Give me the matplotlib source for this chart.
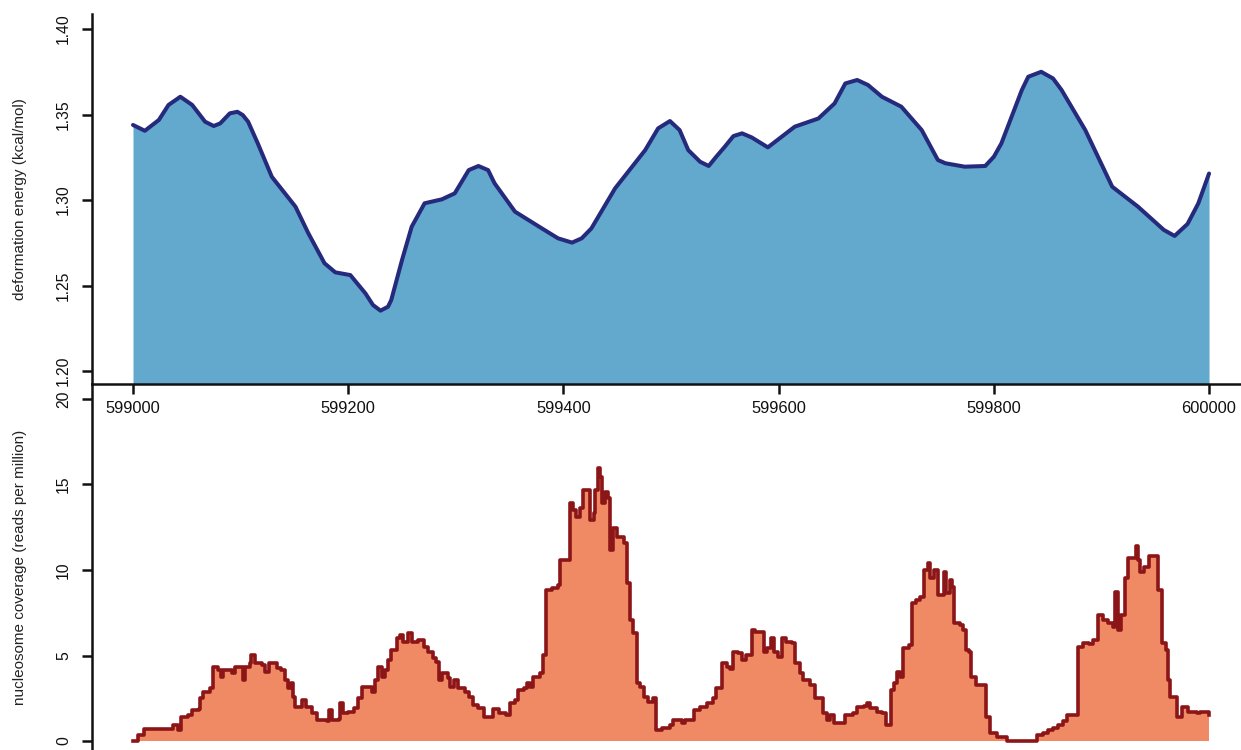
import matplotlib
matplotlib.use("Agg")
import matplotlib.pyplot as plt
import numpy as np

plt.rcParams['font.family'] = ['Liberation Sans', 'DejaVu Sans']

# deformation energy along the locus (position, kcal/mol)
energy_pos = [599000, 599011, 599024, 599033, 599044, 599055, 599067, 599075, 599081,
              599090, 599097, 599102, 599107, 599116, 599129, 599151, 599163, 599178,
              599188, 599202, 599216, 599223, 599230, 599237, 599240, 599250, 599259,
              599271, 599287, 599299, 599312, 599321, 599330, 599336, 599355, 599380,
              599395, 599408, 599417, 599426, 599448, 599476, 599488, 599499, 599508,
              599516, 599527, 599535, 599542, 599550, 599558, 599566, 599575, 599590,
              599615, 599637, 599652, 599662, 599673, 599683, 599696, 599714, 599733,
              599748, 599755, 599773, 599792, 599800, 599807, 599826, 599832, 599844,
              599855, 599863, 599885, 599910, 599934, 599958, 599968, 599980, 599990,
              600000]
energy_val = [1.3439, 1.3405, 1.3468, 1.3556, 1.3604, 1.3556, 1.3458, 1.3433, 1.3448,
              1.3507, 1.3516, 1.3497, 1.3458, 1.3331, 1.3136, 1.2961, 1.2805, 1.2630,
              1.2577, 1.2561, 1.2454, 1.2386, 1.2353, 1.2376, 1.2415, 1.2649, 1.2844,
              1.2981, 1.3004, 1.3039, 1.3175, 1.3199, 1.3175, 1.3098, 1.2932, 1.2834,
              1.2776, 1.2751, 1.2776, 1.2834, 1.3068, 1.3292, 1.3419, 1.3462, 1.3409,
              1.3292, 1.3224, 1.3199, 1.3253, 1.3312, 1.3374, 1.3390, 1.3366, 1.3308,
              1.3429, 1.3477, 1.3565, 1.3682, 1.3702, 1.3673, 1.3604, 1.3546, 1.3409,
              1.3234, 1.3215, 1.3195, 1.3199, 1.3253, 1.3331, 1.3643, 1.3721, 1.3750,
              1.3711, 1.3643, 1.3409, 1.3078, 1.2961, 1.2825, 1.2790, 1.2860, 1.2980,
              1.3155]

# nucleosome coverage (position, reads per million)
cov_pos = [599000, 599005, 599010, 599033, 599037, 599042, 599045, 599051, 599055, 599061,
           599062, 599065, 599072, 599074, 599079, 599082, 599084, 599092, 599095, 599102,
           599104, 599109, 599110, 599113, 599120, 599123, 599126, 599134, 599138, 599141,
           599144, 599147, 599149, 599151, 599157, 599161, 599166, 599171, 599180, 599182,
           599185, 599191, 599192, 599195, 599200, 599205, 599209, 599213, 599219, 599222,
           599225, 599228, 599231, 599234, 599237, 599240, 599245, 599248, 599251, 599256,
           599259, 599265, 599270, 599274, 599279, 599282, 599284, 599287, 599293, 599295,
           599298, 599302, 599309, 599312, 599316, 599321, 599326, 599335, 599340, 599347,
           599350, 599355, 599358, 599363, 599366, 599369, 599372, 599378, 599381, 599384,
           599389, 599395, 599397, 599406, 599409, 599412, 599415, 599418, 599425, 599428,
           599429, 599432, 599434, 599436, 599439, 599441, 599443, 599446, 599450, 599456,
           599459, 599462, 599465, 599468, 599471, 599475, 599479, 599483, 599486, 599492,
           599499, 599502, 599510, 599513, 599521, 599527, 599533, 599539, 599542, 599547,
           599552, 599555, 599558, 599562, 599566, 599570, 599575, 599578, 599586, 599589,
           599593, 599596, 599599, 599603, 599607, 599612, 599615, 599620, 599623, 599629,
           599634, 599641, 599645, 599648, 599651, 599662, 599669, 599673, 599679, 599682,
           599685, 599691, 599696, 599700, 599704, 599707, 599710, 599713, 599716, 599721,
           599724, 599728, 599731, 599735, 599739, 599741, 599744, 599748, 599754, 599756,
           599759, 599761, 599763, 599769, 599771, 599774, 599777, 599779, 599783, 599793,
           599796, 599803, 599810, 599812, 599840, 599846, 599850, 599855, 599860, 599864,
           599868, 599878, 599883, 599888, 599892, 599897, 599901, 599906, 599911, 599913,
           599915, 599918, 599922, 599925, 599932, 599934, 599936, 599940, 599944, 599953,
           599956, 599960, 599962, 599964, 599970, 599975, 599980, 599989, 599992, 600000]
cov_val = [0.0, 0.35, 0.68, 0.68, 0.94, 0.64, 1.42, 1.52, 1.81, 1.85,
           2.5, 2.88, 3.08, 4.35, 4.15, 3.76, 4.15, 4.0, 4.35, 3.57,
           4.35, 4.54, 5.03, 4.54, 4.44, 4.05, 4.54, 4.25, 4.15, 3.57,
           3.08, 3.37, 2.59, 2.0, 2.4, 2.0, 1.62, 1.23, 1.19, 1.81,
           1.23, 1.27, 2.2, 1.62, 1.71, 1.91, 2.5, 3.18, 3.14, 2.88,
           3.57, 4.35, 3.76, 4.15, 4.74, 5.32, 6.0, 6.2, 5.81, 6.33,
           5.81, 5.91, 5.51, 5.22, 4.83, 4.64, 3.57, 3.96, 3.67, 3.18,
           3.57, 3.08, 2.88, 2.59, 2.11, 1.91, 1.42, 1.85, 1.62, 1.52,
           2.2, 2.4, 2.98, 3.08, 3.37, 3.18, 3.76, 3.96, 5.03, 8.83,
           8.93, 9.12, 10.58, 13.9, 13.51, 13.12, 13.6, 14.68, 12.92, 13.31,
           14.68, 15.95, 15.46, 13.9, 14.58, 14.19, 11.17, 12.44, 11.95, 11.56,
           9.22, 7.08, 6.3, 3.37, 3.18, 2.59, 2.3, 2.5, 0.64, 0.74,
           0.94, 1.23, 1.03, 1.23, 1.81, 2.0, 2.2, 2.5, 3.08, 4.54,
           4.35, 4.19, 5.22, 5.13, 4.74, 5.03, 6.49, 6.39, 5.22, 5.42,
           6.0, 5.22, 4.93, 6.0, 5.81, 5.71, 4.54, 3.96, 3.57, 3.27,
           2.5, 1.62, 1.23, 1.52, 1.03, 1.52, 1.62, 2.0, 2.05, 2.2,
           1.91, 1.71, 1.62, 0.94, 2.98, 3.37, 4.05, 3.76, 5.42, 5.61,
           8.05, 8.25, 8.44, 10.0, 10.39, 9.51, 10.0, 8.54, 9.9, 8.64,
           9.42, 9.03, 6.88, 6.78, 6.49, 5.32, 5.22, 3.76, 3.27, 1.42,
           0.45, 0.25, 0.21, 0.02, 0.35, 0.45, 0.64, 0.74, 0.94, 1.19,
           1.52, 5.51, 5.75, 5.67, 5.91, 7.37, 7.08, 6.88, 6.68, 8.73,
           6.49, 7.37, 9.51, 10.68, 11.4, 10.58, 9.9, 10.19, 10.82, 8.83,
           5.71, 5.32, 3.57, 2.59, 1.42, 2.0, 1.71, 1.62, 1.71, 1.52]

x_ticks = [599000, 599200, 599400, 599600, 599800, 600000]
energy_ticks = [1.20, 1.25, 1.30, 1.35, 1.40]
cov_ticks = [0, 5, 10, 15, 20]

W, H = 1241, 750
fig = plt.figure(figsize=(W / 100, H / 100), dpi=100)

left = 92 / W
top_ax = fig.add_axes([left, 1 - 384 / H, 1 - left, 370 / H])
bot_ax = fig.add_axes([left, 0, 1 - left, 366 / H])

xlim = (598961.9, 600029.7)

# upper panel: deformation energy
top_ax.fill_between(energy_pos, energy_val, 1.0, color='#63a9cd', linewidth=0)
top_ax.plot(energy_pos, energy_val, color='#262a7c', linewidth=2.9,
            solid_joinstyle='round', solid_capstyle='round')
top_ax.set_xlim(*xlim)
top_ax.set_ylim(1.1924, 1.4088)
top_ax.set_xticks(x_ticks)
top_ax.set_xticklabels([str(t) for t in x_ticks], fontsize=11.8)
top_ax.set_yticks(energy_ticks)
top_ax.set_yticklabels(['%.2f' % t for t in energy_ticks], fontsize=11.3)

# lower panel: nucleosome coverage
bot_ax.fill_between(cov_pos, cov_val, 0, step='post', color='#f08a65', linewidth=0)
bot_ax.plot(cov_pos, cov_val, drawstyle='steps-post', color='#8b1517', linewidth=2.6,
            solid_joinstyle='round')
bot_ax.set_xlim(*xlim)
bot_ax.set_ylim(-0.526, 20.877)
bot_ax.set_xticks([])
bot_ax.set_yticks(cov_ticks)
bot_ax.set_yticklabels([str(t) for t in cov_ticks], fontsize=11.3)

for ax in (top_ax, bot_ax):
    ax.patch.set_alpha(0)
    ax.spines['top'].set_visible(False)
    ax.spines['right'].set_visible(False)
    for s in ('left', 'bottom'):
        ax.spines[s].set_linewidth(1.8)
        ax.spines[s].set_color('#111111')
    ax.tick_params(axis='y', direction='out', length=7, width=1.8,
                   labelrotation=90, pad=8, colors='#111111')
    ax.tick_params(axis='x', direction='out', length=7, width=1.8, pad=5,
                   colors='#111111')
    for lab in ax.get_yticklabels():
        lab.set_verticalalignment('center')
bot_ax.spines['bottom'].set_visible(False)

fig.text(20 / W, 1 - 199 / H, 'deformation energy (kcal/mol)', rotation=90,
         ha='center', va='center', fontsize=11, color='#222222')
fig.text(20 / W, 1 - 567 / H, 'nucleosome coverage (reads per million)', rotation=90,
         ha='center', va='center', fontsize=11, color='#222222')

fig.savefig('out.png', dpi=100)
